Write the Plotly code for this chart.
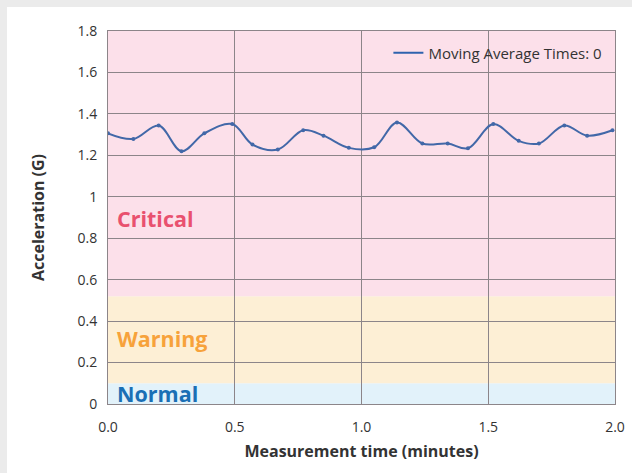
import plotly.graph_objects as go

# measurement samples (minutes, G)
times = [0.0, 0.10, 0.20, 0.29, 0.38, 0.49, 0.57, 0.67, 0.77, 0.85, 0.95,
         1.05, 1.14, 1.24, 1.34, 1.42, 1.52, 1.62, 1.70, 1.80, 1.89, 1.99]
accel = [1.306, 1.279, 1.344, 1.220, 1.306, 1.351, 1.252, 1.228, 1.321, 1.295, 1.236,
         1.239, 1.359, 1.257, 1.257, 1.234, 1.351, 1.270, 1.257, 1.344, 1.295, 1.321]

# alarm zones
zone_names = ["Normal", "Warning", "Critical"]
zone_low = [0.0, 0.1, 0.52]
zone_high = [0.1, 0.52, 1.8]
zone_fill = ["#e2f2fa", "#fdefd5", "#fce0ea"]
zone_text = ["#1a6fb5", "#f7a23b", "#e9516f"]
zone_label_y = [0.05, 0.314, 0.894]

x_ticks = [0.0, 0.5, 1.0, 1.5, 2.0]
y_ticks = [0, 0.2, 0.4, 0.6, 0.8, 1, 1.2, 1.4, 1.6, 1.8]

FONT = "Open Sans"
LINE = "#4268a8"
W, H = 632, 473
L, R, T, B = 108, 17, 31, 69
pw, ph = W - L - R, H - T - B

fig = go.Figure()

fig.add_trace(go.Scatter(
    x=times, y=accel,
    mode="lines+markers",
    line=dict(color=LINE, width=2, shape="spline"),
    marker=dict(size=4, color=LINE),
    showlegend=False,
))
# legend entry: plain line sample
fig.add_trace(go.Scatter(
    x=[None], y=[None], mode="lines",
    line=dict(color="#2f63ae", width=2),
    name="Moving Average Times: 0",
))

shapes = [
    # white card over the grey page, leaving a thin top / left strip
    dict(type="rect", xref="paper", yref="paper", layer="below",
         x0=(7 - L) / pw, x1=(W - L + 2) / pw,
         y0=-(B + 2) / ph, y1=(ph + T - 7) / ph,
         fillcolor="white", line_width=0),
]
for lo, hi, col in zip(zone_low, zone_high, zone_fill):
    shapes.append(dict(type="rect", xref="x", yref="y", layer="below",
                       x0=0, x1=2.0, y0=lo, y1=hi,
                       fillcolor=col, line_width=0))

annotations = []
for name, yv, col in zip(zone_names, zone_label_y, zone_text):
    annotations.append(dict(x=0.028, y=yv, xref="x", yref="y", text=f"<b>{name}</b>",
                            showarrow=False, xanchor="left", yanchor="middle",
                            font=dict(size=21.5, color=col, family=FONT)))

fig.update_layout(
    width=W, height=H,
    margin=dict(l=L, r=R, t=T, b=B, autoexpand=False),
    paper_bgcolor="#ebebeb",
    plot_bgcolor="rgba(0,0,0,0)",
    font=dict(family=FONT, size=14, color="#333333"),
    shapes=shapes,
    annotations=annotations,
    showlegend=True,
    legend=dict(x=0.985, y=0.985, xanchor="right", yanchor="top",
                bgcolor="rgba(0,0,0,0)", font=dict(size=15, color="#333333")),
    xaxis=dict(
        range=[0, 2.0], tickvals=x_ticks, tickformat=".1f",
        showgrid=True, gridcolor="#8c8589", gridwidth=1,
        showline=True, linecolor="#8c8589", mirror=True, linewidth=1,
        zeroline=False, ticks="", ticklabelstandoff=10, automargin=False,
        title=dict(text="<b>Measurement time (minutes)</b>", standoff=11,
                   font=dict(size=16, color="#333333")),
    ),
    yaxis=dict(
        range=[0, 1.8], tickvals=y_ticks,
        showgrid=True, gridcolor="#8c8589", gridwidth=1,
        showline=True, linecolor="#8c8589", mirror=True, linewidth=1,
        zeroline=False, ticks="", ticklabelstandoff=7, automargin=False,
        title=dict(text="<b>Acceleration (G)</b>", standoff=28,
                   font=dict(size=16, color="#333333")),
    ),
)

# the page body has a default 8px margin; drop it so the figure fills the window
fig.write_html("out.html", config={"displayModeBar": False},
               post_script="document.body.style.margin='0';")
